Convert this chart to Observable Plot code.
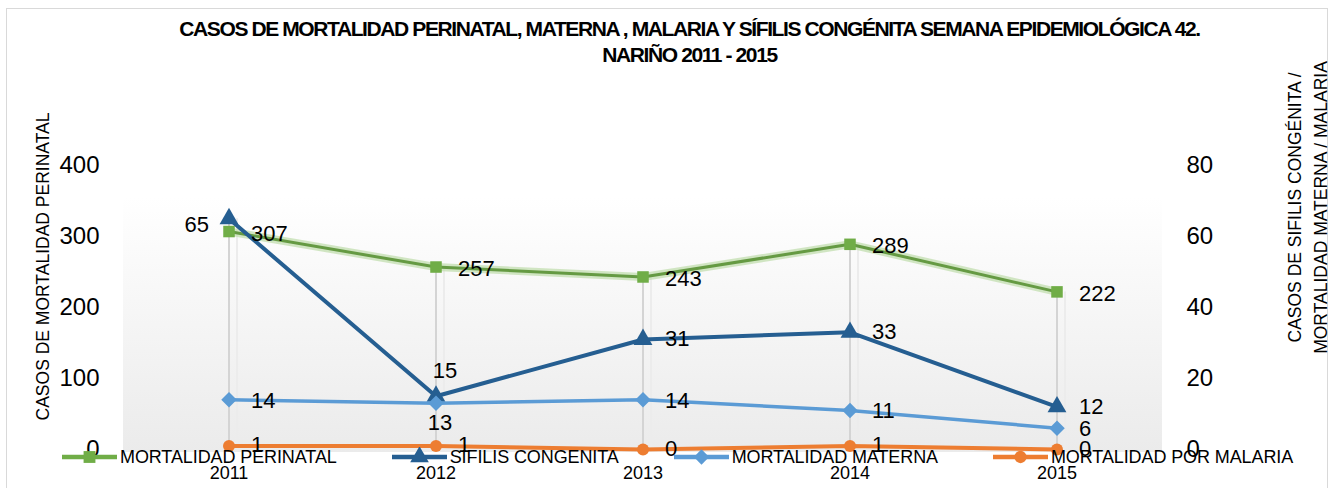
<!DOCTYPE html>
<html><head><meta charset="utf-8">
<script src="https://cdn.jsdelivr.net/npm/d3@7"></script>
<script src="https://cdn.jsdelivr.net/npm/@observablehq/plot@0.6"></script>
<style>
body{margin:0;background:#fff;font-family:"Liberation Sans",Arial,sans-serif;color:#000;}
#wrap{position:relative;width:1335px;height:488px;overflow:hidden;background:#fff;}
#frame{position:absolute;left:6px;top:8px;width:1322px;height:520px;border:1.5px solid #d9d9d9;box-sizing:border-box;}
#title{position:absolute;left:22px;top:16px;width:1335px;text-align:center;font-weight:bold;font-size:21px;line-height:26px;letter-spacing:-1.4px;}
#chart{position:absolute;left:0;top:80px;}
#legend{position:absolute;left:62px;top:447px;height:20px;display:flex;align-items:center;gap:55px;font-size:18px;letter-spacing:-0.1px;}
.item{display:flex;align-items:center;gap:3px;white-space:nowrap;}
</style></head>
<body><div id="wrap"><div id="frame"></div><div id="title"></div><div id="chart"></div><div id="legend"></div></div>
<script>
const years = ["2011","2012","2013","2014","2015"];
const perinatal = [307,257,243,289,222];
const sifilis = [65,15,31,33,12];
const materna = [14,13,14,11,6];
const malaria = [1,1,0,1,0];
const leftTicks = [0,100,200,300,400];
const rightTicks = [0,20,40,60,80];
const seriesNames = ["MORTALIDAD PERINATAL","SIFILIS CONGENITA","MORTALIDAD MATERNA","MORTALIDAD POR MALARIA"];
const titleLines = ["CASOS DE MORTALIDAD PERINATAL, MATERNA , MALARIA Y SÍFILIS CONGÉNITA SEMANA EPIDEMIOLÓGICA 42.","NARIÑO 2011 - 2015"];
const leftTitle = "CASOS DE MORTALIDAD PERINATAL";
const rightTitle = ["CASOS DE SIFILIS CONGÉNITA /","MORTALIDAD MATERNA / MALARIA"];

const colors = ["#70ad47","#255e91","#5b9bd5","#ed7d31"];
const K = 400/80;

document.getElementById("title").innerHTML = titleLines.join("<br>");

const rows = (vals, s, k) => years.map((y,i)=>({year:y, value:vals[i], v:vals[i]*k, series:s, i}));
const P = rows(perinatal,0,1), S = rows(sifilis,1,K), M = rows(materna,2,K), L = rows(malaria,3,K);
const drops = years.map((y,i)=>({year:y, top:Math.max(P[i].v,S[i].v,M[i].v,L[i].v)}));

const lab = (data, opts={}) => Plot.text(data, {x:"year", y:"v", text:d=>String(d.value), fontSize:22, fill:"#000", textAnchor:"start", dx:22, lineAnchor:"middle", ...opts});

const chart = Plot.plot({
  width:1335, height:408, marginTop:85, marginBottom:39, marginLeft:123, marginRight:173,
  style:{background:"transparent", fontFamily:"'Liberation Sans', Arial, sans-serif", color:"#000", overflow:"visible"},
  x:{type:"band", domain:years, padding:0, axis:null},
  y:{domain:[0,400], axis:null},
  marks:[
    Plot.ruleX(drops,{x:"year", y1:0, y2:"top", stroke:"#ececec", strokeWidth:2, dx:8}),
    Plot.ruleX(drops,{x:"year", y1:0, y2:"top", stroke:"#d4d4d4", strokeWidth:2}),
    Plot.axisY(leftTicks,{anchor:"left", tickSize:0, tickPadding:24, fontSize:24, label:null}),
    Plot.axisY(rightTicks.map(v=>v*K),{anchor:"right", tickSize:0, tickPadding:24, fontSize:24, tickFormat:d=>String(d/K), label:null}),
    Plot.axisX(years,{anchor:"bottom", tickSize:0, tickPadding:17, fontSize:18, label:null}),
    Plot.text([leftTitle],{text:d=>d, frameAnchor:"top-left", dx:-87, dy:101, rotate:-90, fontSize:17.5, textAnchor:"middle"}),
    Plot.text([rightTitle.join("\n")],{text:d=>d, frameAnchor:"top-right", dx:143, dy:42, rotate:-90, fontSize:17.5, textAnchor:"middle", lineAnchor:"middle", lineHeight:1.49}),
    // perinatal
    Plot.lineY(P,{x:"year", y:"v", stroke:"#c5e0b4", strokeWidth:8, strokeOpacity:0.8}),
    Plot.lineY(P,{x:"year", y:"v", stroke:"#659a43", strokeWidth:3}),
    Plot.dot(P,{x:"year", y:"v", symbol:"square", r:6.5, fill:colors[0], stroke:"none"}),
    // sifilis
    Plot.lineY(S,{x:"year", y:"v", stroke:colors[1], strokeWidth:4}),
    Plot.dot(S,{x:"year", y:"v", symbol:"triangle", r:7, fill:colors[1], stroke:"none"}),
    // materna
    Plot.lineY(M,{x:"year", y:"v", stroke:colors[2], strokeWidth:3.5}),
    Plot.dot(M,{x:"year", y:"v", symbol:"diamond2", r:7, fill:colors[2], stroke:"none"}),
    // malaria
    Plot.lineY(L,{x:"year", y:"v", stroke:colors[3], strokeWidth:4}),
    Plot.dot(L,{x:"year", y:"v", symbol:"circle", r:6, fill:colors[3], stroke:"none"}),
    // labels
    lab(P,{dy:2}),
    lab(S,{filter:d=>d.i>=2}),
    lab(S,{filter:d=>d.i===0, textAnchor:"end", dx:-20, dy:6}),
    lab(S,{filter:d=>d.i===1, textAnchor:"middle", dx:9, dy:-25}),
    lab(M,{filter:d=>d.i!==1, dy:1}),
    lab(M,{filter:d=>d.i===1, textAnchor:"middle", dx:4, dy:20}),
    lab(L,{dy:-1})
  ]
});

// plot-area gradient background
const ns = "http://www.w3.org/2000/svg";
const defs = document.createElementNS(ns,"defs");
defs.innerHTML = '<linearGradient id="bgGrad" x1="0" y1="0" x2="0" y2="1"><stop offset="0" stop-color="#ffffff"/><stop offset="1" stop-color="#ebebeb"/></linearGradient>';
const rect = document.createElementNS(ns,"rect");
rect.setAttribute("x",123); rect.setAttribute("y",117); rect.setAttribute("width",1039); rect.setAttribute("height",255);
rect.setAttribute("fill","url(#bgGrad)");
const after = chart.querySelector("style") ? chart.querySelector("style").nextSibling : chart.firstChild;
chart.insertBefore(defs, after);
chart.insertBefore(rect, after);
document.getElementById("chart").appendChild(chart);

// legend
const leg = document.getElementById("legend");
seriesNames.forEach((name,i)=>{
  const item = document.createElement("div"); item.className="item";
  const sym = d3.symbol().type([d3.symbolSquare,d3.symbolTriangle,d3.symbolDiamond2,d3.symbolCircle][i]).size([140,150,150,120][i])();
  item.innerHTML = `<svg width="55" height="20"><line x1="0" x2="55" y1="10" y2="10" stroke="${colors[i]}" stroke-width="4.5"/><path d="${sym}" transform="translate(27.5,10)" fill="${colors[i]}"/></svg><span>${name}</span>`;
  leg.appendChild(item);
});
</script></body></html>
